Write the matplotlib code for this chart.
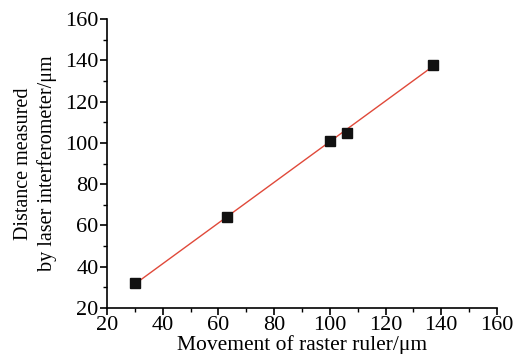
import matplotlib
matplotlib.use("Agg")
import matplotlib.pyplot as plt
import numpy as np
from matplotlib.ticker import MultipleLocator

# data
raster_movement = [30, 63, 100, 106, 137]
laser_distance = [32, 64, 101, 105, 138]

plt.rcParams["font.family"] = ["Liberation Serif", "DejaVu Serif"]

fig = plt.figure(figsize=(5.22, 3.54), dpi=100)
ax = fig.add_axes([0.205, 0.130, 0.747, 0.816])

# linear fit line
coef = np.polyfit(raster_movement, laser_distance, 1)
xs = np.array([min(raster_movement), max(raster_movement)])
ax.plot(xs, np.polyval(coef, xs), color="#e0493a", linewidth=1.0, zorder=2)
ax.plot(raster_movement, laser_distance, linestyle="none", marker="s",
        markersize=7, color="#111111", zorder=3)

ax.set_xlim(20, 160)
ax.set_ylim(20, 160)
ax.xaxis.set_major_locator(MultipleLocator(20))
ax.xaxis.set_minor_locator(MultipleLocator(10))
ax.yaxis.set_major_locator(MultipleLocator(20))
ax.yaxis.set_minor_locator(MultipleLocator(10))

for side in ["top", "right"]:
    ax.spines[side].set_visible(False)
for side in ["left", "bottom"]:
    ax.spines[side].set_linewidth(1.2)

ax.tick_params(which="major", direction="out", length=5, width=1.2,
               labelsize=16, pad=1)
ax.tick_params(which="minor", direction="out", length=3, width=1.0)

ax.set_xlabel("Movement of raster ruler/\u03bcm", fontsize=15.5, labelpad=0)
ax.set_ylabel("Distance measured\nby laser interferometer/\u03bcm",
              fontsize=14.5, labelpad=6, linespacing=1.25)

fig.savefig("out.png", dpi=100)
